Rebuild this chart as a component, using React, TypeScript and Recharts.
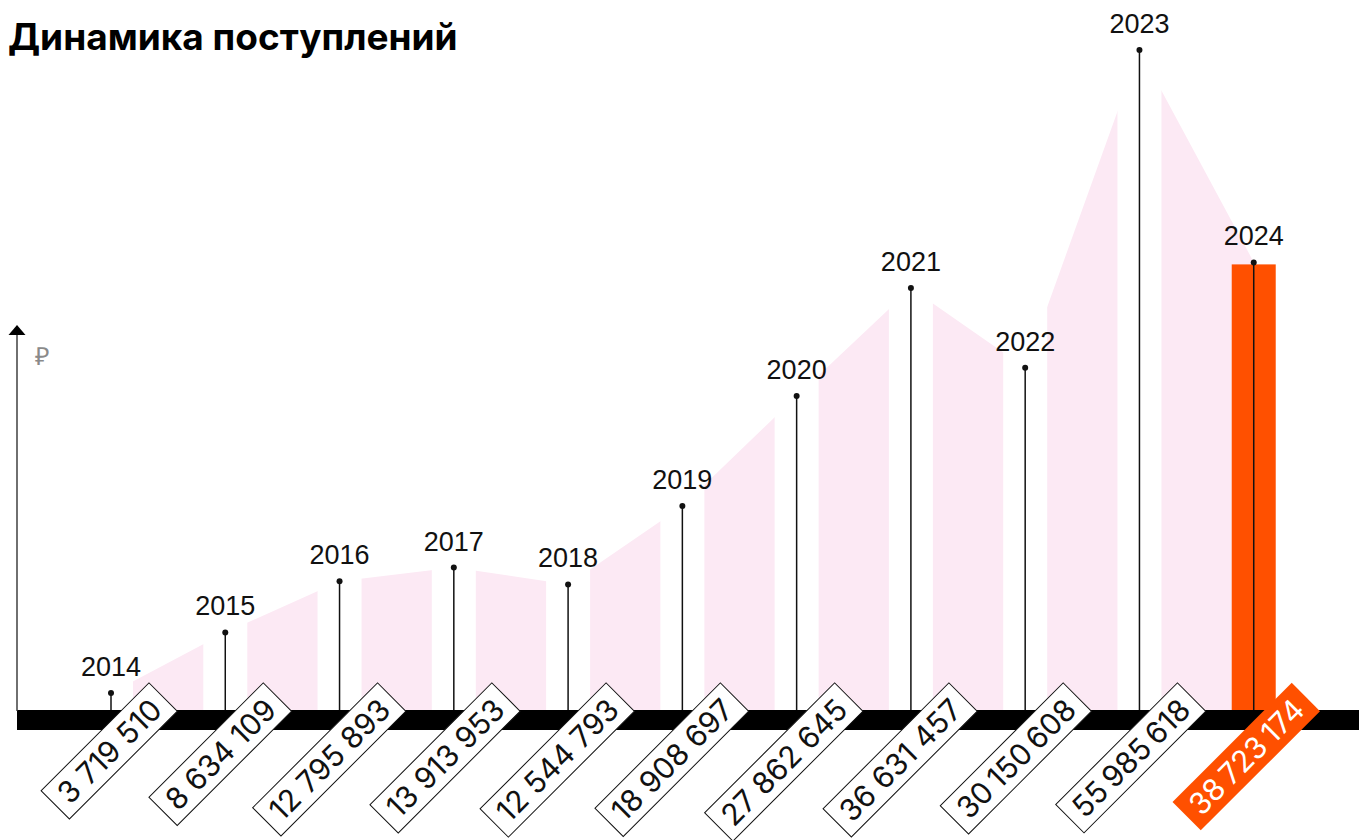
import React, { useLayoutEffect, useRef, useState } from 'react';
import { ComposedChart, Area, Bar, XAxis, YAxis } from 'recharts';

const years = ['2014', '2015', '2016', '2017', '2018', '2019', '2020', '2021', '2022', '2023', '2024'];
const receipts = [
  3719510, 8634109, 12795893, 13913953, 12544793, 18908697,
  27862645, 36631457, 30150608, 55985618, 38723174,
];
const receiptLabels = [
  '3 719 510', '8 634 109', '12 795 893', '13 913 953', '12 544 793', '18 908 697',
  '27 862 645', '36 631 457', '30\u2009150\u2009608', '55\u2009985\u2009618', '38\u2009723\u2009174',
];
const highlightYear = '2024';

const data = years.map((year, i) => ({ year, value: receipts[i] }));

const PINK = '#fce9f4';
const ORANGE = '#ff5000';
const INK = '#111';

// stem + dot + year label; white band cuts the pink area around each stem
const StemShape = (props: any) => {
  const { x, y, width, height, index } = props;
  const cx = x + width / 2;
  const bottom = y + height;
  const hot = years[index] === highlightYear;
  return (
    <g>
      {hot ? (
        <rect x={x} y={y + 2} width={width} height={height - 12} fill={ORANGE} />
      ) : (
        <rect x={x} y={0} width={width} height={bottom - 10} fill="#fff" />
      )}
      <line x1={cx} y1={y} x2={cx} y2={bottom} stroke={INK} strokeWidth={1.5} />
      <circle cx={cx} cy={y} r={3} fill={INK} />
      <text
        x={cx}
        y={y - 17}
        textAnchor="middle"
        fontFamily="'Liberation Sans', Arial, sans-serif"
        fontSize={27}
        fill={INK}
      >
        {years[index]}
      </text>
    </g>
  );
};

// rotated value box under the baseline
const ValueTick = (props: any) => {
  const { x, y, payload } = props;
  const i = years.indexOf(payload.value);
  const label = receiptLabels[i] ?? '';
  const hot = payload.value === highlightYear;
  const ref = useRef<SVGTextElement>(null);
  const [len, setLen] = useState(label.length * 16);

  useLayoutEffect(() => {
    if (ref.current) setLen(ref.current.getComputedTextLength());
  }, [label]);

  const pad = 10;
  const boxLen = len + pad * 2;
  return (
    <g transform={`translate(${x + 52}, ${y - 23}) rotate(-45)`}>
      <rect
        x={-boxLen}
        y={-20}
        width={boxLen}
        height={40}
        fill={hot ? ORANGE : '#fff'}
        stroke={hot ? 'none' : INK}
        strokeWidth={1}
      />
      <text
        ref={ref}
        x={-pad}
        y={11}
        textAnchor="end"
        fontFamily="Inter, 'Noto Sans', sans-serif"
        fontSize={30}
        fill={hot ? '#fff' : INK}
      >
        {label}
      </text>
    </g>
  );
};

const App = () => {
  return (
    <div style={{ position: 'absolute', left: 0, top: 0, width: 1359, height: 840, background: '#fff' }}>
      <ComposedChart
        width={1359}
        height={840}
        data={data}
        margin={{ top: 20, right: 0, bottom: 20, left: 17 }}
      >
        <YAxis hide domain={[1520000, 58430000]} />
        <Area
          type="linear"
          dataKey="value"
          fill={PINK}
          fillOpacity={1}
          stroke="none"
          dot={false}
          activeDot={false}
          isAnimationActive={false}
        />
        <Bar dataKey="value" barSize={44} shape={<StemShape />} isAnimationActive={false} />
        <XAxis
          dataKey="year"
          height={100}
          interval={0}
          padding={{ left: 37, right: 48 }}
          axisLine={{ stroke: '#000', strokeWidth: 20 }}
          tickLine={false}
          tickSize={0}
          tickMargin={0}
          tick={<ValueTick />}
        />
      </ComposedChart>

      <svg
        width={1359}
        height={840}
        style={{ position: 'absolute', left: 0, top: 0, pointerEvents: 'none' }}
      >
        <text x={8} y={50} fontFamily="Inter, 'Noto Sans', sans-serif" fontWeight={700} fontSize={37} fill="#000">
          Динамика поступлений
        </text>
        <line x1={17} y1={333} x2={17} y2={711} stroke="#333" strokeWidth={1.4} />
        <polygon points="17,325 8.5,335 25.5,335" fill="#000" />
        <text x={35} y={365} fontFamily="'Liberation Sans', Arial, sans-serif" fontSize={25} fill="#8a8a8a">
          ₽
        </text>
      </svg>
    </div>
  );
};

export default App;
